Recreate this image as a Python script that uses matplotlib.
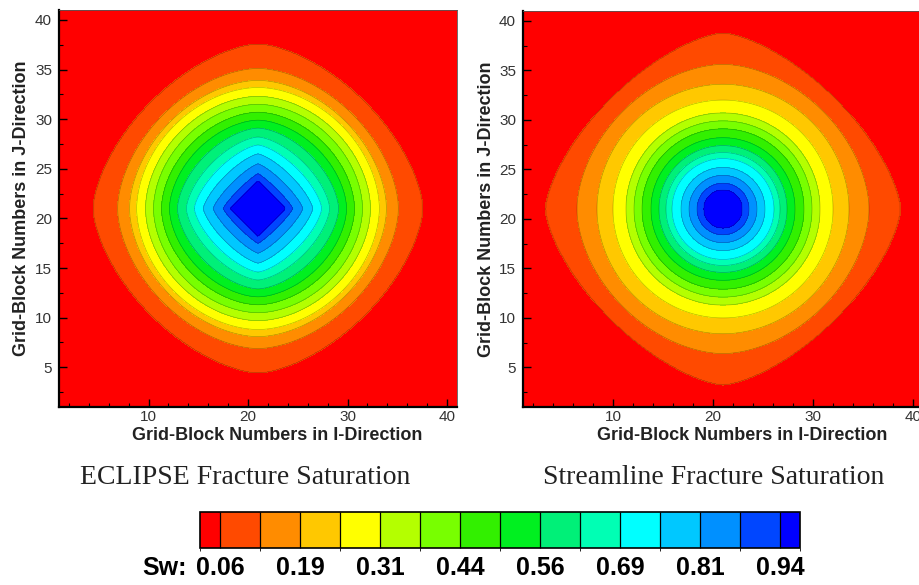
import matplotlib
matplotlib.use("Agg")
import matplotlib.pyplot as plt
import numpy as np
from matplotlib.colors import ListedColormap, BoundaryNorm
from matplotlib.cm import ScalarMappable
from matplotlib.ticker import MultipleLocator

plt.rcParams['font.family'] = ['Liberation Sans', 'DejaVu Sans']

# contour levels of Sw and the band colours (below first level .. above last)
levels = [0.0625, 0.125, 0.1875, 0.25, 0.3125, 0.375, 0.4375, 0.5,
          0.5625, 0.625, 0.6875, 0.75, 0.8125, 0.875, 0.9375]
band_colors = ["#FF0000", "#FF4A00", "#FF8C00", "#FFC800", "#FFFF00", "#B4FF00",
               "#78FF00", "#32F000", "#00F020", "#00F078", "#00FFB4", "#00FFFF",
               "#00C8FF", "#0090FF", "#0046FF", "#0000FF"]
cb_ticks = [0.0625, 0.1875, 0.3125, 0.4375, 0.5625, 0.6875, 0.8125, 0.9375]
cb_labels = ["0.06", "0.19", "0.31", "0.44", "0.56", "0.69", "0.81", "0.94"]

# contour: distance of each level from the injector (21,21)
# along the grid axes, and a shape exponent (1 = diamond, 2 = circle)
center = (21, 21)
eclipse_r = [16.6, 14.1, 12.9, 12.2, 11.3, 10.5, 9.7, 8.9, 8.1, 7.2, 6.4, 5.5, 4.5, 3.5, 2.7]
eclipse_p = [1.6, 1.75, 1.8, 1.85, 1.85, 1.85, 1.8, 1.75, 1.65, 1.55, 1.45, 1.35, 1.25, 1.15, 1.05]
stream_r = [17.8, 14.6, 12.6, 11.0, 9.7, 8.9, 8.1, 7.2, 6.4, 5.7, 5.1, 4.2, 3.4, 2.6, 1.9]
stream_p = [1.5, 1.8, 1.95, 2.0, 2.0, 2.0, 2.0, 2.0, 2.0, 2.0, 2.0, 2.0, 2.0, 2.0, 2.0]


def build_field(radii, shape, lev):
    x = np.linspace(1, 41, 401)
    X, Y = np.meshgrid(x, x)
    dx = np.abs(X - center[0])
    dy = np.abs(Y - center[1])
    a = np.asarray(radii)[:, None, None]
    p = np.asarray(shape)[:, None, None]
    d = (dx ** p + dy ** p) ** (1.0 / p) - a
    lev = np.asarray(lev)
    n = (d < 0).sum(axis=0)
    V = np.empty_like(X)
    out = n == 0
    V[out] = lev[0] - 0.03
    inn = n == len(lev)
    V[inn] = lev[-1] + 0.03
    mid = ~(out | inn)
    k = n[mid] - 1
    d_flat = d[:, mid]
    cols = np.arange(d_flat.shape[1])
    d0 = d_flat[k, cols]
    d1 = d_flat[k + 1, cols]
    f = -d0 / (d1 - d0)
    V[mid] = lev[k] + f * (lev[k + 1] - lev[k])
    return X, Y, V


fig = plt.figure(figsize=(9.19, 5.85), dpi=100)
ax1 = fig.add_axes([59 / 919, 1 - 407 / 585, 398 / 919, 397 / 585])
ax2 = fig.add_axes([523 / 919, 1 - 407 / 585, 400 / 919, 396 / 585])

fill_levels = [0.0] + levels + [1.0]
for ax, radii, shape in [(ax1, eclipse_r, eclipse_p), (ax2, stream_r, stream_p)]:
    X, Y, V = build_field(radii, shape, levels)
    ax.contourf(X, Y, V, levels=fill_levels, colors=band_colors)
    ax.contour(X, Y, V, levels=levels, colors="k", linewidths=0.45, alpha=0.3)
    ax.set_xlim(1, 41)
    ax.set_ylim(1, 41)
    ax.set_xticks([10, 20, 30, 40])
    ax.set_yticks([5, 10, 15, 20, 25, 30, 35, 40])
    ax.xaxis.set_minor_locator(MultipleLocator(2))
    ax.yaxis.set_minor_locator(MultipleLocator(2.5))
    ax.tick_params(which="major", direction="in", length=6, width=1, labelsize=11,
                   labelcolor="#333333")
    ax.tick_params(which="minor", direction="in", length=3, width=0.8)
    ax.tick_params(axis="x", pad=2.5)
    ax.tick_params(axis="y", pad=5)
    for side in ["left", "bottom"]:
        ax.spines[side].set_linewidth(1.6)
    for side in ["top", "right"]:
        ax.spines[side].set_linewidth(0.6)
        ax.spines[side].set_color("#555555")
    ax.set_xlabel("Grid-Block Numbers in I-Direction", fontsize=13, fontweight="bold",
                  color="#222222")
    ax.set_ylabel("Grid-Block Numbers in J-Direction", fontsize=13, fontweight="bold",
                  color="#222222")
    ax.xaxis.set_label_coords(0.548, -0.05)

ax1.yaxis.set_label_coords(-0.072, 0.5)
ax2.yaxis.set_label_coords(-0.07, 0.5)

fig.text(245 / 919, 1 - 478 / 585, "ECLIPSE Fracture Saturation", ha="center", va="center",
         fontsize=20, family="Liberation Serif", color="#222222")
fig.text(714 / 919, 1 - 478 / 585, "Streamline Fracture Saturation", ha="center", va="center",
         fontsize=20, family="Liberation Serif", color="#222222")

# contour legend, end boxes are half width
step = levels[1] - levels[0]
cb_bounds = [levels[0] - step / 2] + levels + [levels[-1] + step / 2]
cmap = ListedColormap(band_colors)
norm = BoundaryNorm(cb_bounds, cmap.N)
cax = fig.add_axes([200 / 919, 1 - 548 / 585, 600 / 919, 36 / 585])
cb = fig.colorbar(ScalarMappable(norm=norm, cmap=cmap), cax=cax, orientation="horizontal",
                  drawedges=True, spacing="proportional", ticks=cb_ticks)
cb.set_ticklabels(cb_labels)
cb.dividers.set_color("k")
cb.dividers.set_linewidth(0.9)
cb.outline.set_linewidth(1.2)
cax.tick_params(length=0, pad=6, labelsize=18)
for t in cax.get_xticklabels():
    t.set_fontweight("bold")
fig.text(187 / 919, 1 - 556 / 585, "Sw:", ha="right", va="top", fontsize=18,
         fontweight="bold")

fig.savefig("out.png", dpi=100)
